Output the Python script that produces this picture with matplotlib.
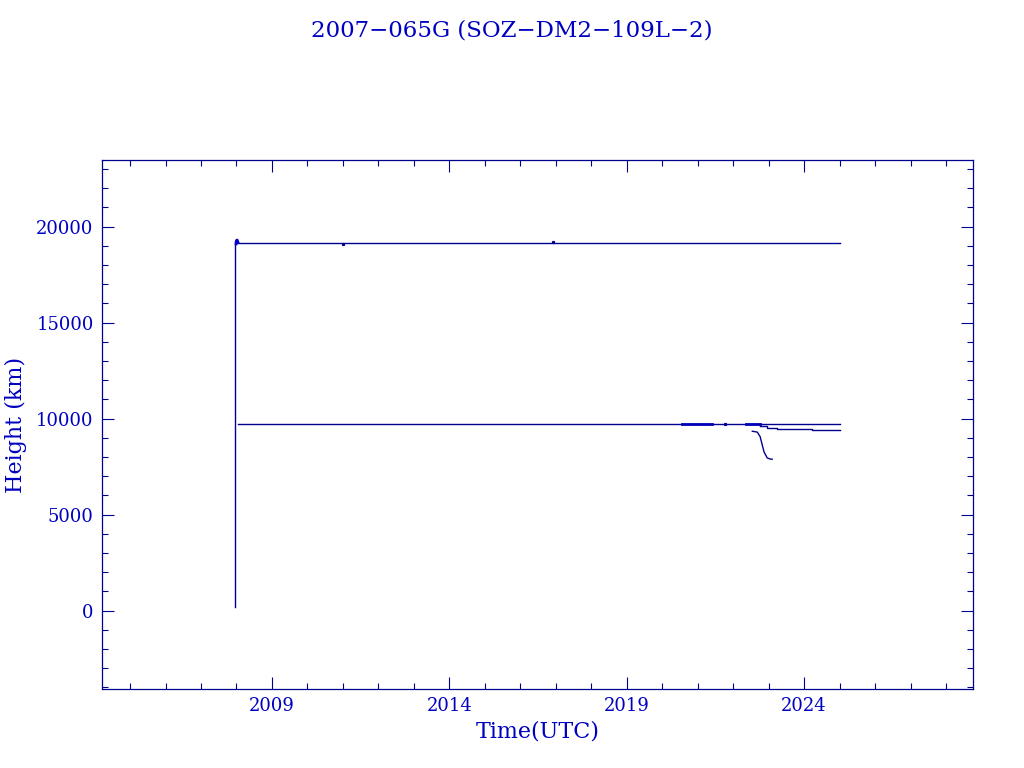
import numpy as np
import matplotlib
matplotlib.use("Agg")
import matplotlib.pyplot as plt
from matplotlib.ticker import MultipleLocator

# values (decimal years, km)
launch_t = [2007.97, 2007.97]
launch_h = [200, 19250]

upper_t = [2007.99, 2025.02]
upper_h = [19150, 19150]
blob_t = [2007.99, 2008.0, 2008.02, 2008.04]
blob_h = [19100, 19280, 19300, 19200]
upper_marks_t = [2011.0, 2016.93]
upper_marks_h = [19120, 19200]

lower_t = [2008.03, 2025.02]
lower_h = [9720, 9720]
lower_thick = [(2020.56, 2021.41), (2022.37, 2022.76)]
lower_dot_t = [2021.77]
lower_dot_h = [9740]

branch_t = [2022.76, 2022.96, 2023.24, 2024.23, 2025.02]
branch_h = [9620, 9530, 9450, 9390, 9390]

decay_t = [2022.54, 2022.68, 2022.76, 2022.82, 2022.87, 2022.93, 2022.96, 2023.04, 2023.10]
decay_h = [9344, 9300, 9063, 8630, 8266, 8057, 7953, 7900, 7885]

line_c = '#00008f'
text_c = '#0000c0'

plt.rcParams['font.family'] = ['DejaVu Serif']

fig = plt.figure(figsize=(10.24, 7.68), dpi=100)
ax = fig.add_axes([102/1024, 79/768, 871/1024, 529/768])

ax.plot(launch_t, launch_h, color=line_c, lw=1.0)
ax.plot(upper_t, upper_h, color=line_c, lw=1.0)
ax.plot(blob_t, blob_h, color='#0000c8', lw=2.0)
ax.plot(upper_marks_t, upper_marks_h, 's', color=line_c, ms=1.3)
ax.plot(lower_t, lower_h, color=line_c, lw=1.0)
for a, b in lower_thick:
    ax.plot([a, b], [9720, 9720], color='#0000b8', lw=2.0)
ax.plot(lower_dot_t, lower_dot_h, 's', color=line_c, ms=1.3)
ax.plot(branch_t, branch_h, color=line_c, lw=1.0, drawstyle='steps-post')
ax.plot(decay_t, decay_h, color=line_c, lw=1.0)

ax.set_xlim(2004.21, 2028.76)
ax.set_ylim(-4080, 23470)
ax.xaxis.set_major_locator(MultipleLocator(5))
ax.xaxis.set_minor_locator(MultipleLocator(1))
ax.yaxis.set_major_locator(MultipleLocator(5000))
ax.yaxis.set_minor_locator(MultipleLocator(1000))
ax.set_xticks([2009, 2014, 2019, 2024])

for s in ax.spines.values():
    s.set_color(line_c)
    s.set_linewidth(0.9)
ax.tick_params(which='both', direction='in', top=True, right=True, colors=line_c,
               labelcolor=text_c, labelsize=13, width=0.8)
ax.tick_params(which='major', length=8.5, pad=6)
ax.tick_params(which='minor', length=4.3)

ax.set_xlabel('Time(UTC)', color=text_c, fontsize=16, labelpad=4)
ax.set_ylabel('Height (km)', color=text_c, fontsize=16)
ax.yaxis.set_label_coords(-0.086, 0.5)
fig.text(0.5, 1 - 30/768, '2007\u2212065G (SOZ\u2212DM2\u2212109L\u22122)',
         ha='center', va='center', color=text_c, fontsize=16.5)

fig.savefig('out.png', dpi=100)
